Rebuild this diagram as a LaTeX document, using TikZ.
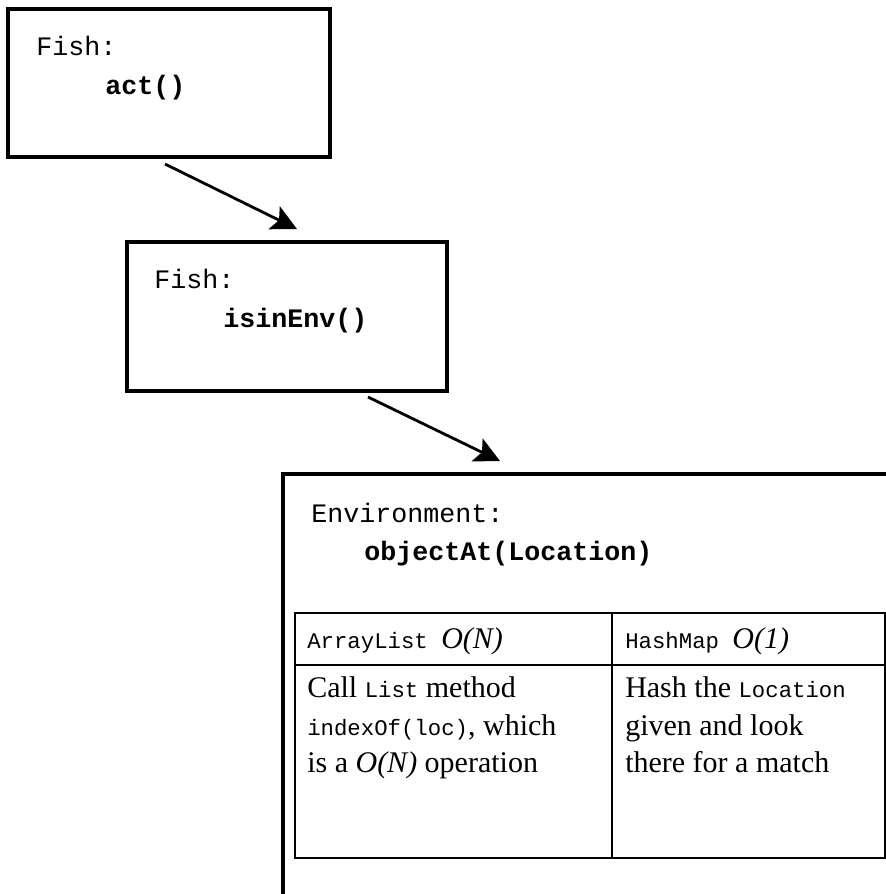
\documentclass[tikz,border=0pt]{standalone}
\usepackage{fontspec}
\setmainfont{Liberation Serif}
\setmonofont{Liberation Mono}
\usetikzlibrary{arrows.meta,calc}

% font sizes for the call boxes and the comparison table
\newcommand\callfont{\ttfamily\fontsize{20}{24}\selectfont}
\newcommand\bodyfont{\rmfamily\fontsize{22.5}{28.5}\selectfont}
\newcommand\inlinecode[1]{{\ttfamily\fontsize{16.75}{20}\selectfont #1}}

\begin{document}
\begin{tikzpicture}[x=0.75pt,y=-0.75pt,
  callbox/.style={draw, line width=2.4pt, inner sep=0pt, outer sep=0pt, anchor=north west},
  cellbox/.style={draw, line width=1.7pt, inner sep=0pt, outer sep=0pt, anchor=north west},
  lbl/.style={inner sep=0pt, anchor=base west},
  flow/.style={line width=2.1pt, -{Stealth[length=19pt,width=19pt,inset=4pt]}}]
\useasboundingbox (0,0) rectangle (886,894);
\clip (0,0) rectangle (886,894);

% call boxes
\node[callbox, minimum width=241.5pt, minimum height=111pt] (actbox) at (8,9) {};
\node[callbox, minimum width=240pt, minimum height=111.75pt] (envcheck) at (127,242) {};
\node[callbox, minimum width=480pt, minimum height=345pt] (envbox) at (283,474) {};

\node[lbl, font=\callfont] (actcls) at (36,55) {Fish:};
\node[lbl, font=\callfont\bfseries] (actname) at (105,94) {act()};
\node[lbl, font=\callfont] (chkcls) at (154,288) {Fish:};
\node[lbl, font=\callfont\bfseries] (chkname) at (223,327) {isinEnv()};
\node[lbl, font=\callfont] (envcls) at (311,522) {Environment:};
\node[lbl, font=\callfont\bfseries] (envname) at (364,560) {objectAt(Location)};

% comparison table
\node[cellbox, minimum width=237.75pt, minimum height=39pt] (hdrL) at (295,613) {};
\node[cellbox, minimum width=204.75pt, minimum height=39pt] (hdrR) at (612,613) {};
\node[cellbox, minimum width=237.75pt, minimum height=144.75pt] (bodyL) at (295,665) {};
\node[cellbox, minimum width=204.75pt, minimum height=144.75pt] (bodyR) at (612,665) {};

\node[lbl, font=\bodyfont] (hdrLtxt) at (307,648) {\inlinecode{ArrayList }\textit{O(N)}};
\node[lbl, font=\bodyfont] (hdrRtxt) at (625,648) {\inlinecode{HashMap }\textit{O(1)}};

\node[lbl, font=\bodyfont] (l1) at (307,697) {Call \inlinecode{List} method};
\node[lbl, font=\bodyfont] (l2) at (307,735) {\inlinecode{indexOf(loc)}, which};
\node[lbl, font=\bodyfont] (l3) at (307,772) {is a \textit{O(N)} operation};
\node[lbl, font=\bodyfont] (r1) at (625,697) {Hash the \inlinecode{Location}};
\node[lbl, font=\bodyfont] (r2) at (625,735) {given and look};
\node[lbl, font=\bodyfont] (r3) at (625,772) {there for a match};

% call arrows
\draw[flow] ($(actbox.south west)+(157,7)$) -- ($(envcheck.north west)+(170,-13)$);
\draw[flow] ($(envcheck.south west)+(241,6)$) -- ($(envbox.north west)+(217,-13)$);
\end{tikzpicture}
\end{document}
